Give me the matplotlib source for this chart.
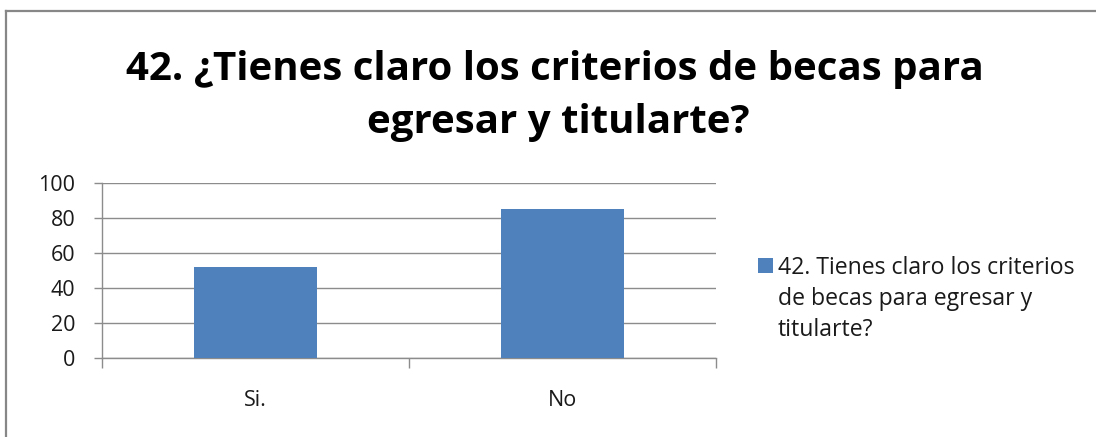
import matplotlib
matplotlib.use("Agg")
import matplotlib.pyplot as plt
from matplotlib.lines import Line2D
from matplotlib.patches import Rectangle

categories = ["Si.", "No"]
values = [52, 85]
series_label = "42. Tienes claro los criterios\nde becas para egresar y\ntitularte?"
title_lines = ["42. ¿Tienes claro los criterios de becas para", "egresar y titularte?"]
yticks = [0, 20, 40, 60, 80, 100]

bar_color = "#4F81BD"
grid_color = "#8C8C8C"
text_color = "#1A1A1A"

plt.rcParams["font.family"] = ["Open Sans", "DejaVu Sans"]

W, H = 1096, 437
fig = plt.figure(figsize=(W / 100, H / 100), dpi=100)
fig.patch.set_facecolor("white")

# chart frame (top and left edges only, the rest runs off the image)
fig.add_artist(Line2D([6 / W, 1.0], [1 - 11 / H, 1 - 11 / H], color="#878787", lw=1.6,
                      transform=fig.transFigure))
fig.add_artist(Line2D([6 / W, 6 / W], [0.0, 1 - 11 / H], color="#878787", lw=1.6,
                      transform=fig.transFigure))

# title
fig.text(555 / W, 1 - 80 / H, title_lines[0], ha="center", va="baseline",
         fontsize=29, fontweight="bold", color="black")
fig.text(558 / W, 1 - 133 / H, title_lines[1], ha="center", va="baseline",
         fontsize=29, fontweight="bold", color="black")

ax = fig.add_axes([101.7 / W, 1 - 358.3 / H, 614 / W, 175.6 / H])
x = list(range(len(categories)))
bars = ax.bar(x, values, width=0.4, color=bar_color, zorder=3)

ax.set_xlim(-0.5, len(categories) - 0.5)
ax.set_ylim(0, 100)
ax.set_yticks(yticks)
ax.set_yticklabels([str(v) for v in yticks], fontsize=15.5, color=text_color)
ax.yaxis.grid(True, color=grid_color, lw=1.0, zorder=0)

# category ticks sit on the boundaries between groups
ax.set_xticks([i - 0.5 for i in range(len(categories) + 1)])
ax.set_xticklabels([])
ax.tick_params(axis="x", length=7, color=grid_color, width=1.0, direction="out")
ax.tick_params(axis="y", length=6, color=grid_color, width=1.0, direction="out", pad=13)
for i, c in enumerate(categories):
    ax.text(i, -24, c, ha="center", va="center", fontsize=15.5, color=text_color)

for side in ["top", "right"]:
    ax.spines[side].set_visible(False)
for side in ["left", "bottom"]:
    ax.spines[side].set_color(grid_color)
    ax.spines[side].set_linewidth(1.0)

# legend: colour key plus wrapped series name
fig.add_artist(Rectangle((758 / W, 1 - 273 / H), 15 / W, 15 / H, facecolor=bar_color,
                         edgecolor="none", transform=fig.transFigure))
for k, line in enumerate(series_label.split("\n")):
    fig.text(778 / W, 1 - (274 + 31 * k) / H, line, ha="left", va="baseline",
             fontsize=16.6, color=text_color)

fig.savefig("out.png", dpi=100, facecolor="white")
